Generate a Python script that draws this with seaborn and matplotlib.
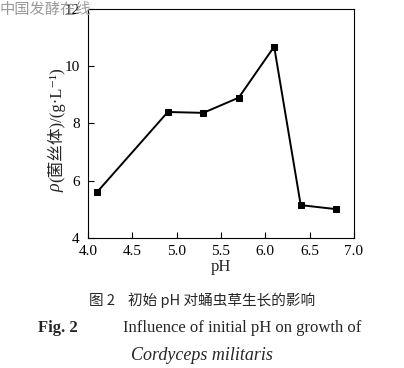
#Influence of initial pH on growth of Cordyceps militaris

import pandas as pd
import matplotlib.pyplot as plt
import seaborn as sb

sb.set_style('ticks')
plt.rcParams['font.family'] = ['Liberation Serif', 'Noto Sans CJK SC', 'DejaVu Sans']
plt.rcParams['xtick.direction'] = 'in'
plt.rcParams['ytick.direction'] = 'in'

ph = [4.1, 4.9, 5.3, 5.7, 6.1, 6.4, 6.8]
biomass = [5.6, 8.4, 8.37, 8.9, 10.68, 5.15, 5.01]
xticks = [4.0, 4.5, 5.0, 5.5, 6.0, 6.5, 7.0]
yticks = [4, 6, 8, 10, 12]

df = pd.DataFrame({'pH': ph, 'Biomass': biomass})

fig = plt.figure(figsize = (4.04, 3.68), dpi = 100)
ax = fig.add_axes([0.218, 0.353, 0.658, 0.623])

sb.lineplot(x = 'pH', y = 'Biomass',
            data = df,
            marker = 's',
            markersize = 5,
            color = 'k',
            linewidth = 1.4,
            markeredgecolor = 'k',
            ax = ax)

ax.set(xlim = (4.0, 7.0), ylim = (4, 12))
ax.set_xticks(xticks)
ax.set_yticks(yticks)
ax.set_xticklabels(['%.1f' % t for t in xticks], fontsize = 11)
ax.set_yticklabels([str(t) for t in yticks], fontsize = 11)
ax.tick_params(top = False, right = False, length = 4, width = 0.8, colors = 'k')
ax.tick_params(axis = 'x', pad = 5)
ax.tick_params(axis = 'y', pad = 6)
for s in ax.spines.values():
    s.set_linewidth(0.8)
    s.set_color('k')

ax.set_xlabel('pH', fontsize = 12, labelpad = 1)
ax.set_ylabel('')

#y label: italic rho + rest
fig.text(0.138, 0.489, 'ρ', fontsize = 13, style = 'italic', rotation = 90,
         ha = 'center', va = 'center')
fig.text(0.138, 0.505, '(菌丝体)/(g·L⁻¹)', fontsize = 12, rotation = 90,
         ha = 'center', va = 'bottom')

#watermark
fig.text(0.0, 0.975, '中国发酵在线', fontsize = 11, color = '#9a9a9a',
         family = ['Noto Sans CJK SC'], va = 'center', ha = 'left')

#captions
fig.text(0.5, 0.183, '图 2    初始 pH 对蛹虫草生长的影响', fontsize = 10.5,
         family = ['Noto Sans CJK SC', 'DejaVu Sans'], ha = 'center', va = 'center')
fig.text(0.094, 0.11, 'Fig. 2', fontsize = 12, weight = 'bold', ha = 'left', va = 'center')
fig.text(0.305, 0.11, 'Influence of initial pH on growth of', fontsize = 12,
         ha = 'left', va = 'center')
fig.text(0.5, 0.035, 'Cordyceps militaris', fontsize = 13, style = 'italic',
         ha = 'center', va = 'center')

plt.savefig('out.png', dpi = 100)
